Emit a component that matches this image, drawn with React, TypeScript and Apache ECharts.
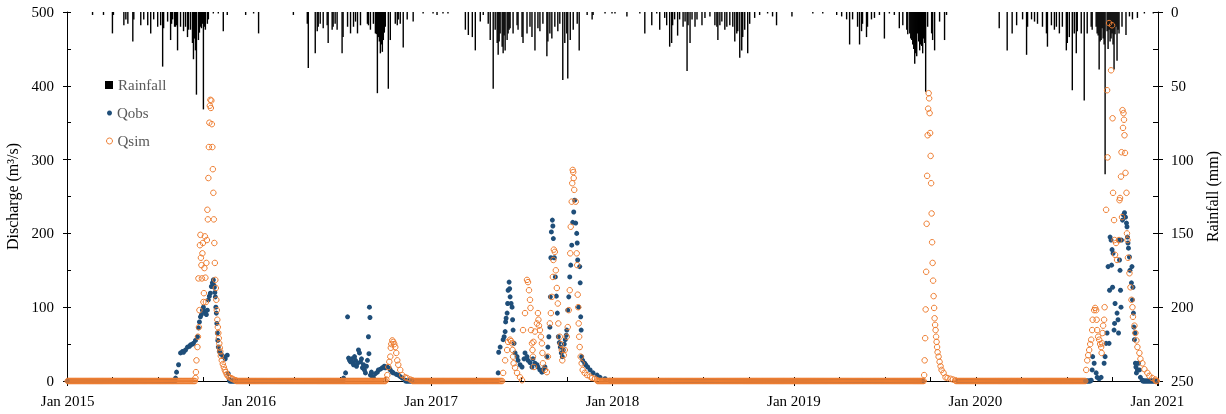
import { useEffect, useRef } from "react";
import * as echarts from "echarts";

// ---- data (day index counted from 1 Jan 2015) ----
const rainfall: [number, number][] = [
  [50,2],[72,2],[90,14.5],[92,2],[113,9],[117,5],[121,8],[131,20],[133,5],[147,9],[153,5],[161,9],[167,14.5],[173,5],[181,10],[187,9],[191,37],[193,11],[201,6.5],[207,19],[209,8],[211,5],[215,10],[217,10],[219,9],[221,26],[227,10],[233,13],[237,10],[241,17],[243,12],[247,12],[251,21],[253,32],[255,18],[257,26],[259,56],[263,19],[265,14],[267,10],[269,11],[271,8],[273,66],[275,10],[277,12],[281,8],[283,5],[293,1],[303,1],[313,13],[321,2],[358,2],[374,1],[384,14.5],
  [454,2],[482,8],[484,38],[498,28],[502,13],[504,10],[508,8],[514,11],[522,9],[524,21],[532,12],[534,10],[538,8],[542,12],[552,28],[554,17],[563,10],[569,14.5],[575,10],[579,6.5],[583,14.5],[589,9],[603,8],[605,9],[609,12],[615,8],[619,14.5],[621,15],[623,55],[625,17],[627,20],[629,28],[631,22],[633,27],[635,19],[637,14],[639,10],[645,52],[649,19],[659,8],[663,9],[665,5],[669,8],[675,24],[683,5],[695,6.5],[715,1],[735,1],[743,2],[755,1],[765,1],
  [800,12],[806,15.6],[814,17],[820,26],[830,6.5],[836,2],[846,8],[850,19],[856,52],[860,12],[864,21],[866,29],[868,20],[870,14.5],[874,23.5],[876,28],[878,16],[880,26],[884,19],[886,14.5],[888,12],[890,11],[896,14.5],[904,9],[906,12],[914,17],[916,21],[924,14.5],[930,10],[934,17],[940,26],[946,11],[950,13],[956,8],[964,30],[966,20],[970,14.5],[974,18],[980,10],[986,13],[990,8],[996,46],[1000,21],[1004,14.5],[1006,45],[1011,19],[1017,12],[1025,8],[1029,26],[1045,2],[1055,5],[1057,2],[1081,1],[1095,1],[1101,1],
  [1125,3],[1151,1],[1161,14.5],[1175,9],[1185,1],[1191,12],[1201,4],[1205,9],[1211,23.5],[1215,21],[1217,9],[1221,5],[1227,16],[1231,5],[1238,10],[1242,6.5],[1246,40],[1248,9],[1252,21],[1256,5],[1262,10],[1266,5],[1276,9],[1282,4],[1292,3],[1302,9],[1306,10],[1308,19],[1312,9],[1316,6.5],[1322,12],[1326,10],[1332,9],[1338,10],[1342,20],[1346,14.5],[1348,13],[1352,31],[1356,26],[1358,17],[1362,12],[1368,28],[1372,8],[1382,4],[1392,2],[1408,1],[1418,3],[1426,9],[1457,3],[1499,1],[1519,1],
  [1547,2],[1557,3],[1567,5],[1573,22],[1579,5],[1589,10],[1593,22],[1597,13],[1599,8],[1607,17],[1609,10],[1617,5],[1623,4],[1633,2],[1643,18],[1653,1],[1663,2],[1673,11],[1680,9],[1688,12],[1690,15],[1694,14.5],[1696,18],[1698,19],[1700,22],[1702,25],[1704,35],[1706,28],[1708,30],[1710,14.5],[1712,20],[1714,26],[1716,22],[1718,23],[1720,28],[1722,18],[1724,21],[1726,54],[1730,10],[1738,14.5],[1740,19],[1744,26],[1754,6.5],[1764,19],[1768,2],
  [1874,11],[1890,26],[1900,14.5],[1909,9],[1921,5],[1929,29],[1931,10],[1939,5],[1945,6.5],[1951,8],[1961,10],[1969,14.5],[1971,23.5],[1979,9],[1985,12],[1989,10],[1995,14.5],[2001,10],[2009,26],[2011,21],[2015,17],[2021,53],[2025,14.5],[2029,28],[2031,13],[2039,14.5],[2045,60],[2051,14.5],[2059,10],[2061,12],[2069,10],[2071,14.5],[2073,16],[2075,39],[2077,20],[2079,19],[2081,11],[2083,18],[2085,22],[2087,110],[2091,13],[2093,25],[2095,12],[2097,20],[2099,18],[2101,14.5],[2103,22],[2105,39],[2107,15],[2109,10],[2111,33],[2113,12],[2115,14.5],[2121,10],[2129,15.6],[2136,3],[2142,5],[2152,4],[2166,1],[2184,1]
];

// observed discharge during flow events
const qobsEvents: [number, number][] = [
  [217,4],[219,12],[223,22],[227,38],[231,40],[233,39],[237,42],[241,46],[245,47],[247,49],[251,50],[253,51],[257,55],[261,60],[263,72],[265,80],[267,87],[269,90],[271,96],[273,100],[275,95],[277,92],[279,90],[281,96],[283,110],[285,115],[287,119],[289,128],[291,133],[293,137],[294,130],[295,127],[296,120],[297,114],[298,100],[299,92],[300,78],[301,65],[302,55],[303,46],[305,40],[307,38],[309,36],[313,33],[317,30],[321,35],[323,10],[325,2],
  [555,4],[559,11],[563,87],[565,31],[567,28],[569,26],[571,30],[573,25],[575,22],[577,33],[579,28],[581,20],[583,24],[585,42],[587,38],[589,26],[591,30],[593,18],[595,22],[597,15],[599,11],[601,20],[603,28],[605,60],[606,37],[607,100],[608,86],[609,8],[611,12],[613,6],[615,5],[619,10],[623,12],[625,15],[629,16],[633,18],[637,20],[639,18],[643,19],[647,17],[649,15],[653,12],[655,11],[661,9],[665,8],[669,6],[673,4],[679,1],
  [866,11],[867,39],[870,46],[876,56],[878,60],[880,67],[881,80],[882,85],[884,92],[885,105],[886,123],[888,134],[889,125],[890,114],[892,105],[894,100],[895,83],[896,69],[898,51],[900,38],[904,33],[906,28],[910,22],[914,19],[918,30],[920,38],[924,33],[926,28],[930,25],[934,19],[936,30],[940,24],[944,22],[946,19],[950,15],[954,12],[956,15],[960,19],[964,33],[966,46],[968,60],[970,73],[971,114],[972,167],[973,202],[975,218],[976,210],[977,193],[979,167],[981,141],[983,115],[985,92],[987,60],[989,52],[991,46],[993,38],[995,33],[997,42],[999,50],[1001,56],[1003,62],[1004,69],[1006,96],[1008,114],[1010,141],[1012,157],[1014,184],[1016,215],[1018,229],[1020,245],[1022,214],[1024,200],[1025,187],[1026,164],[1028,100],[1030,155],[1031,133],[1032,87],[1033,69],[1034,33],[1036,28],[1040,24],[1042,22],[1046,19],[1051,15],[1057,11],[1065,8],[1071,5],[1081,3],[1091,1],
  [2059,1],[2061,15],[2062,33],[2065,24],[2069,11],[2071,5],[2075,3],[2079,5],[2085,24],[2087,33],[2089,51],[2091,65],[2093,155],[2095,51],[2096,123],[2097,195],[2099,191],[2100,157],[2101,178],[2102,127],[2103,173],[2105,69],[2106,78],[2107,105],[2111,92],[2113,83],[2114,65],[2115,191],[2116,164],[2117,150],[2118,123],[2119,100],[2120,191],[2122,218],[2124,225],[2126,228],[2128,222],[2130,214],[2131,209],[2132,195],[2133,187],[2134,180],[2136,168],[2137,150],[2140,133],[2141,155],[2142,110],[2143,127],[2144,92],[2145,73],[2146,56],[2147,65],[2148,24],[2149,19],[2150,11],[2152,15],[2154,24],[2156,15],[2158,5],[2162,1]
];

// simulated discharge during flow events
const qsimEvents: [number, number][] = [
  [257,4],[258,12],[259,28],[261,46],[262,60],[263,139],[264,73],[265,96],[266,184],[267,198],[268,167],[269,157],[270,139],[271,173],[272,187],[273,107],[274,119],[275,153],[276,196],[277,140],[278,107],[279,160],[280,191],[281,232],[282,219],[283,275],[284,317],[285,350],[286,373],[287,381],[288,370],[289,380],[290,348],[291,317],[292,287],[293,255],[294,219],[295,187],[296,160],[297,137],[298,126],[299,110],[300,96],[301,83],[302,73],[303,65],[304,58],[305,51],[306,45],[307,40],[308,34],[310,28],[312,23],[314,19],[316,15],[318,12],[320,9],[322,7],[325,5],[328,4],[331,3],[334,2],[338,1],
  [641,2],[643,8],[645,19],[647,26],[649,33],[650,45],[651,50],[653,55],[655,53],[657,50],[659,46],[661,38],[663,28],[665,22],[669,15],[673,8],[679,5],[683,4],[689,2],[693,1],
  [876,11],[880,28],[884,42],[886,53],[890,56],[892,54],[894,51],[895,42],[896,33],[897,24],[900,18],[904,11],[910,5],[914,1],[916,69],[920,92],[924,137],[926,134],[928,123],[930,110],[931,99],[932,69],[934,51],[935,42],[936,33],[937,53],[938,19],[940,67],[944,78],[946,92],[947,83],[948,75],[950,69],[952,60],[954,51],[955,38],[956,24],[960,15],[964,12],[966,33],[970,78],[972,92],[974,114],[976,141],[977,164],[978,178],[980,175],[982,150],[984,126],[986,105],[987,78],[990,60],[992,50],[994,42],[995,28],[998,35],[1000,42],[1004,60],[1006,73],[1008,96],[1010,123],[1011,173],[1012,209],[1014,243],[1015,268],[1016,286],[1017,283],[1018,275],[1019,259],[1022,243],[1024,173],[1025,157],[1026,117],[1027,100],[1028,78],[1029,60],[1030,46],[1032,33],[1034,24],[1036,15],[1040,11],[1045,8],[1051,6],[1055,4],[1061,3],[1065,1],
  [1723,8],[1724,28],[1725,58],[1726,97],[1727,148],[1728,213],[1729,278],[1730,333],[1731,369],[1732,390],[1733,383],[1734,363],[1735,336],[1736,305],[1737,268],[1738,227],[1739,188],[1740,160],[1741,136],[1742,115],[1743,99],[1744,85],[1745,76],[1746,69],[1747,60],[1748,53],[1749,46],[1750,39],[1752,33],[1754,26],[1756,20],[1758,15],[1762,11],[1766,5],[1770,4],[1776,3],[1781,2],[1786,1],
  [2049,15],[2051,28],[2053,35],[2055,42],[2057,50],[2059,56],[2061,69],[2062,83],[2065,96],[2067,99],[2069,96],[2070,83],[2071,69],[2073,60],[2075,56],[2077,50],[2079,46],[2080,38],[2081,51],[2082,65],[2083,75],[2085,83],[2086,100],[2089,232],[2091,394],[2092,303],[2095,485],[2099,421],[2101,482],[2102,356],[2103,255],[2105,218],[2106,191],[2107,171],[2109,187],[2111,164],[2115,191],[2116,245],[2117,248],[2119,277],[2120,310],[2121,222],[2122,367],[2123,343],[2124,363],[2125,354],[2126,333],[2127,309],[2128,282],[2130,255],[2131,200],[2132,191],[2133,167],[2136,146],[2138,127],[2140,110],[2142,100],[2143,87],[2146,75],[2148,65],[2150,55],[2152,46],[2156,38],[2158,30],[2162,24],[2166,16],[2172,11],[2176,7],[2182,4],[2188,2]
];

const qobsZeroRuns: [number, number][] = [[0,216],[326,554],[680,865],[1092,1721],[1791,2058],[2163,2191]];
const qsimZeroRuns: [number, number][] = [[0,256],[339,640],[694,875],[1066,1722],[1787,2048],[2189,2191]];

const lastDay = 2192; // 1 Jan 2021
const dischargeTicks = { min: 0, max: 500, interval: 100 };
const rainTicks = { min: 0, max: 250, interval: 50 };

const FONT = "Liberation Serif";

function dayToTime(d: number) {
  return new Date(2015, 0, 1 + d).getTime();
}
function toPoints(list: [number, number][]) {
  return list.map(([d, v]) => [dayToTime(d), v]);
}
function zeroPoints(runs: [number, number][]) {
  const out: number[][] = [];
  for (const [a, b] of runs) for (let d = a; d <= b; d += 2) out.push([dayToTime(d), 0]);
  return out;
}

export default function App() {
  const ref = useRef<HTMLDivElement>(null);
  useEffect(() => {
    if (!ref.current) return;
    const chart = echarts.init(ref.current, undefined, { renderer: "svg" });
    const yearMs = 365 * 24 * 3600 * 1000;
    const minT = dayToTime(0);
    const maxT = dayToTime(lastDay);
    const black = "#000";
    const legendText = { fontFamily: FONT, fontSize: 15, color: "#5a5a5a", lineHeight: 16 };
    chart.setOption({
      animation: false,
      textStyle: { fontFamily: FONT },
      grid: { left: 67, right: 68, top: 12, bottom: 33, outerBoundsMode: "none" },
      legend: [
        {
          data: [{ name: "Rainfall", icon: "rect" }],
          left: 105, top: 77, padding: 0, itemWidth: 8, itemHeight: 8,
          textStyle: legendText, selectedMode: false,
        },
        {
          data: [{ name: "Qobs", icon: "circle" }],
          left: 107, top: 105, padding: 0, itemWidth: 5, itemHeight: 5,
          textStyle: legendText, selectedMode: false,
        },
        {
          data: [{ name: "Qsim", icon: "circle" }],
          left: 106, top: 133, padding: 0, itemWidth: 6, itemHeight: 6,
          itemStyle: { borderWidth: 1 },
          textStyle: legendText, selectedMode: false,
        },
      ],
      xAxis: [
        {
          type: "time", position: "bottom", min: minT, max: maxT,
          minInterval: yearMs, splitNumber: 6,
          axisLine: { show: true, lineStyle: { color: black, width: 1 } },
          axisTick: { show: true, inside: false, length: 5, lineStyle: { color: black } },
          axisLabel: {
            show: true, margin: 12, fontFamily: FONT, fontSize: 15, color: black,
            showMinLabel: true, showMaxLabel: true,
            formatter: (v: number) => {
              const dt = new Date(v);
              return dt.getMonth() === 0 && dt.getDate() === 1 ? "Jan " + dt.getFullYear() : "";
            },
          },
          splitLine: { show: false },
        },
        {
          type: "time", position: "bottom", min: minT, max: maxT,
          minInterval: yearMs, splitNumber: 6,
          axisLine: { show: false },
          axisTick: { show: true, inside: true, length: 4, lineStyle: { color: black } },
          minorTick: { show: true, splitNumber: 4, length: 4, lineStyle: { color: black } },
          axisLabel: { show: false },
          splitLine: { show: false },
        },
      ],
      yAxis: [
        {
          type: "value", position: "left", ...dischargeTicks,
          name: "Discharge (m³/s)", nameLocation: "middle", nameGap: 37,
          nameTextStyle: { fontFamily: FONT, fontSize: 16, color: black },
          axisLine: { show: true, lineStyle: { color: black, width: 1 } },
          axisTick: { show: true, inside: false, length: 4, lineStyle: { color: black } },
          axisLabel: { margin: 13, fontFamily: FONT, fontSize: 15, color: black },
          splitLine: { show: false },
        },
        {
          type: "value", position: "left", ...dischargeTicks,
          axisLine: { show: false },
          axisTick: { show: true, inside: true, length: 4, lineStyle: { color: black } },
          minorTick: { show: true, splitNumber: 2, length: 4, lineStyle: { color: black } },
          axisLabel: { show: false },
          splitLine: { show: false },
        },
        {
          type: "value", position: "right", inverse: true, ...rainTicks,
          name: "Rainfall (mm)", nameLocation: "middle", nameGap: 44, nameRotate: 90,
          nameTextStyle: { fontFamily: FONT, fontSize: 16, color: black },
          axisLine: { show: true, lineStyle: { color: black, width: 1 } },
          axisTick: { show: true, inside: false, length: 5, lineStyle: { color: black } },
          axisLabel: { margin: 13, fontFamily: FONT, fontSize: 15, color: black },
          splitLine: { show: false },
        },
        {
          type: "value", position: "right", inverse: true, ...rainTicks,
          axisLine: { show: false },
          axisTick: { show: true, inside: true, length: 5, lineStyle: { color: black } },
          minorTick: { show: true, splitNumber: 2, length: 5, lineStyle: { color: black } },
          axisLabel: { show: false },
          splitLine: { show: false },
        },
      ],
      series: [
        {
          name: "Rainfall", type: "bar", xAxisIndex: 0, yAxisIndex: 2,
          data: toPoints(rainfall), barWidth: 1.4,
          itemStyle: { color: "#000" }, silent: true,
        },
        {
          name: "Qobs", type: "scatter", xAxisIndex: 0, yAxisIndex: 0,
          data: [...zeroPoints(qobsZeroRuns), ...toPoints(qobsEvents)],
          symbol: "circle", symbolSize: 5, progressive: 0,
          itemStyle: { color: "#1F4E79", opacity: 1 }, silent: true,
        },
        {
          name: "Qsim", type: "scatter", xAxisIndex: 0, yAxisIndex: 0,
          data: [...zeroPoints(qsimZeroRuns), ...toPoints(qsimEvents)],
          symbol: "circle", symbolSize: 5.5, progressive: 0,
          itemStyle: { color: "rgba(255,255,255,0)", borderColor: "#ED7D31", borderWidth: 1, opacity: 1 },
          silent: true,
        },
      ],
    });
    return () => chart.dispose();
  }, []);
  return (
    <div
      ref={ref}
      style={{ position: "fixed", left: 0, top: 0, width: 1226, height: 414 }}
    />
  );
}
